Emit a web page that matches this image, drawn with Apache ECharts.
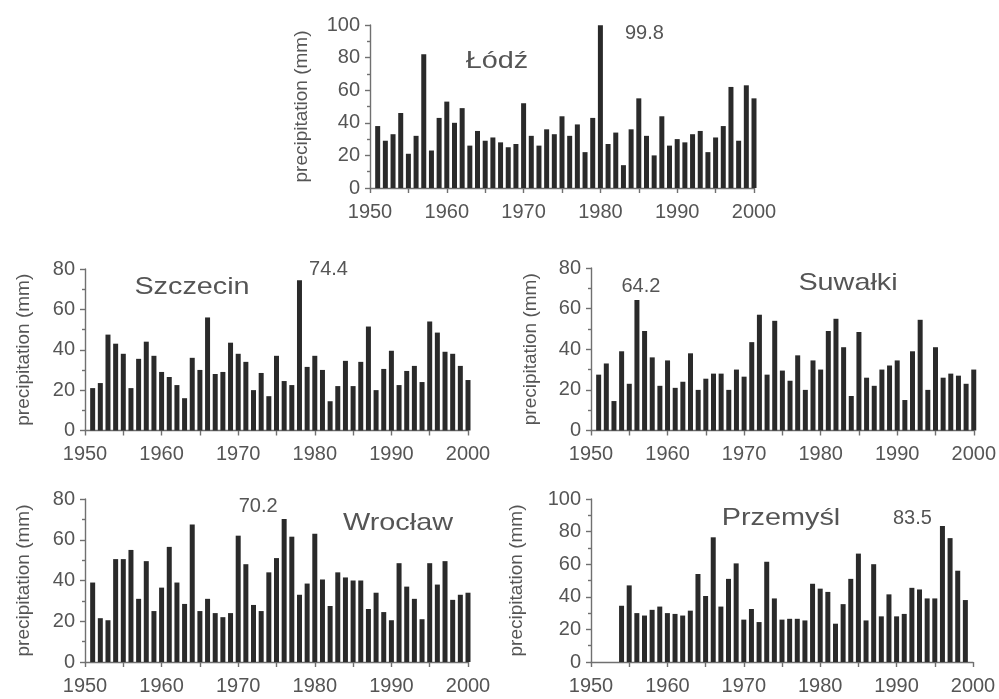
<!DOCTYPE html>
<html>
<head>
<meta charset="utf-8">
<script src="https://cdn.jsdelivr.net/npm/echarts@6/dist/echarts.min.js"></script>
<style>html,body{margin:0;padding:0;background:#fff;}#c{width:999px;height:699px;}</style>
</head>
<body>
<div id="c"></div>
<script>
// ---- data ----
const stations = ['Łódź', 'Szczecin', 'Suwałki', 'Wrocław', 'Przemyśl'];
const startLodz = 1951;
const lodz = [38,29,33,46,21,32,82,23,43,53, 40,49,26,35,29,31,28,25,27,52, 32,26,36,33,44,32,39,22,43,99.8, 27,34,14,36,55,32,20,44,26,30, 28,33,35,22,31,38,62,29,63,55];
const startSzczecin = 1951;
const szczecin = [21,23.5,47.5,43,38,21,35.5,44,37,29, 26.5,22.5,16,36,30,56,28,29,43.5,38, 34,20,28.5,17,37,24.5,22.5,74.4,31.5,37, 30,14.5,22,34.5,22,34,51.5,20,30.5,39.5, 22.5,29.5,32,24,54,48.5,39,38,32,25];
const startSuwalki = 1951;
const suwalki = [27.5,33,14.5,39,23,64.2,49,36,22,34.5, 21,24,38,20,25.5,28,28,20,30,26.5, 43.5,57,27.5,54,29.5,24.5,37,20,34.5,30, 49,55,41,17,48.5,26,22,30,32,34.5, 15,39,54.5,20,41,26,28,27,23,30];
const startWroclaw = 1951;
const wroclaw = [39,21.5,20.5,50.5,50.5,55,31,49.5,25,36.5, 56.5,39,28.5,67.5,25,31,24,22,24,62, 48,28,25,44,51,70.2,61.5,33,38.5,63, 40.5,27.5,44,41.5,40,40,26,34,24.5,20.5, 48.5,37,31,21,48.5,38,49.5,30.5,33,34];
const startPrzemysl = 1954;
const przemysl = [34.5,47,30,28.5,32,34,30, 29.5,28.5,31.5,54,40.5,76.5,34,51,60.5,26, 32.5,24.5,61.5,39,26,26.5,26.5,25.5,48,45, 43,23.5,35.5,51,66.5,25.5,60,28,41.5,28, 29.5,45.5,44.5,39,39,83.5,76,56,38];
const yMax = [100, 80, 80, 80, 100];
const yearTicks = [1950, 1960, 1970, 1980, 1990, 2000];
const peakYears = [1980, 1978, 1956, 1976, 1996];
const peakValues = [99.8, 74.4, 64.2, 70.2, 83.5];

const starts = [startLodz, startSzczecin, startSuwalki, startWroclaw, startPrzemysl];
const values = [lodz, szczecin, suwalki, wroclaw, przemysl];

// ---- layout / style ----
const grids = [
  {left: 370, top: 25, width: 384, height: 163},
  {left: 85, top: 269, width: 383, height: 161.5},
  {left: 591, top: 268, width: 383, height: 162.5},
  {left: 85, top: 499, width: 383, height: 163},
  {left: 591, top: 499, width: 382, height: 163}
];
const nameGaps = [59, 52, 51, 52, 65];
const peakOffsets = [[44, 8], [29, -11], [4, -14], [-26, -12], [-30, -7]];
const titlePos = [[497, 61], [192, 287], [848, 283], [398, 523], [781, 518]];

const FONT = '"Liberation Sans", Arial, sans-serif';
const TXT = '#555555';
const AX = '#707070';

const xAxes = [], yAxes = [], series = [], graphics = [];
for (let i = 0; i < 5; i++) {
  xAxes.push({
    gridIndex: i, type: 'value', min: yearTicks[0], max: yearTicks[yearTicks.length - 1], interval: 10,
    axisLine: {show: true, lineStyle: {color: AX, width: 1.4}},
    axisTick: {show: true, length: 5, lineStyle: {color: AX, width: 1.4}},
    minorTick: {show: true, splitNumber: 2, length: 5, lineStyle: {color: AX, width: 1.4}},
    splitLine: {show: false},
    axisLabel: {fontSize: 20, color: TXT, fontFamily: FONT, margin: 14, formatter: v => String(v)}
  });
  yAxes.push({
    gridIndex: i, type: 'value', min: 0, max: yMax[i], interval: 20,
    axisLine: {show: true, lineStyle: {color: AX, width: 1.4}},
    axisTick: {show: true, length: 5, lineStyle: {color: AX, width: 1.4}},
    minorTick: {show: true, splitNumber: 2, length: 3, lineStyle: {color: AX, width: 1.4}},
    splitLine: {show: false},
    axisLabel: {fontSize: 20, color: TXT, fontFamily: FONT, margin: 10},
    name: 'precipitation (mm)', nameLocation: 'middle', nameGap: nameGaps[i],
    nameTextStyle: {fontSize: 19, color: TXT, fontFamily: FONT}
  });
  const data = values[i].map((v, k) => [starts[i] + k, v]);
  series.push({
    type: 'bar', xAxisIndex: i, yAxisIndex: i, data: data, barWidth: 5, clip: false,
    itemStyle: {color: '#2a2a2a'},
    markPoint: {
      symbol: 'circle', symbolSize: 1, itemStyle: {color: 'rgba(0,0,0,0)'},
      data: [{coord: [peakYears[i], peakValues[i]], value: peakValues[i]}],
      label: {show: true, position: 'inside', offset: peakOffsets[i], formatter: String(peakValues[i]),
              fontSize: 20, color: TXT, fontFamily: FONT}
    },
    animation: false
  });
  graphics.push({
    type: 'text', x: titlePos[i][0], y: titlePos[i][1], scaleX: 1.2,
    style: {text: stations[i], font: '24px ' + FONT, fill: TXT, align: 'center', verticalAlign: 'middle'}
  });
}

const chart = echarts.init(document.getElementById('c'), null, {renderer: 'canvas'});
chart.setOption({
  animation: false,
  backgroundColor: '#fff',
  grid: grids,
  xAxis: xAxes,
  yAxis: yAxes,
  series: series,
  graphic: graphics
});
</script>
</body>
</html>
